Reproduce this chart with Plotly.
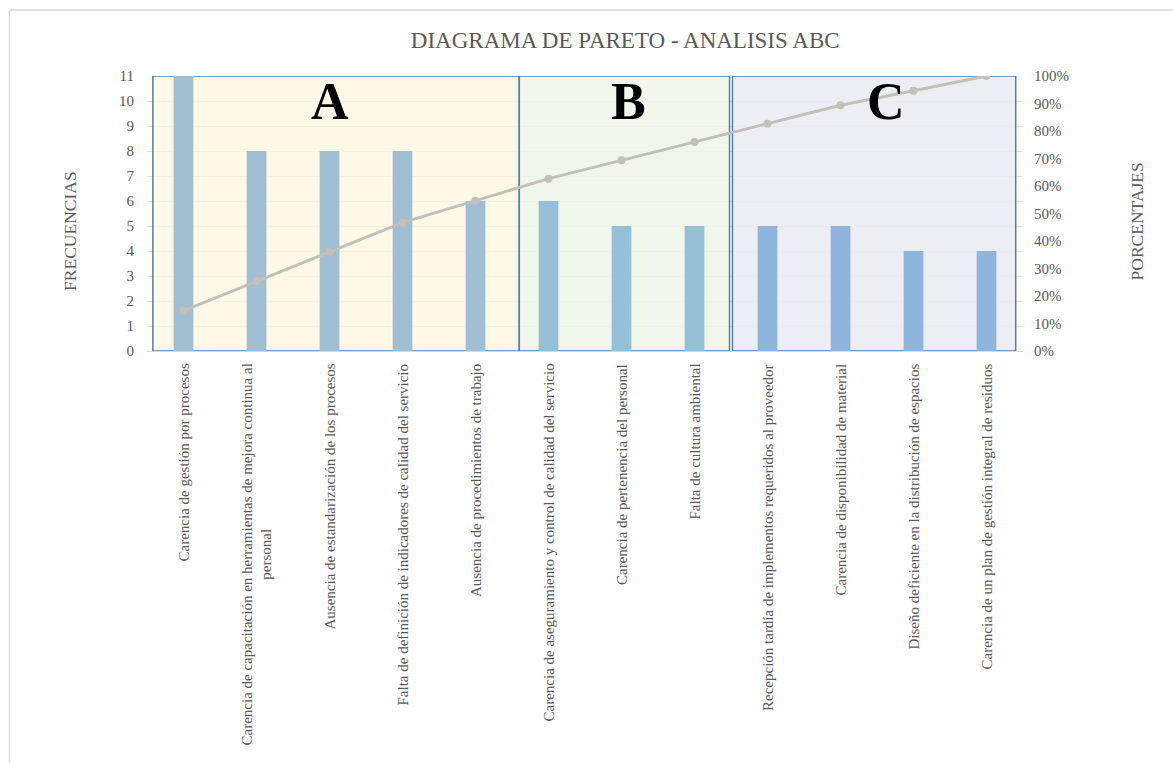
import plotly.graph_objects as go

categories = [
    "Carencia de gestión por procesos",
    "Carencia de capacitación en herramientas de mejora continua al<br>personal",
    "Ausencia de estandarización de los procesos",
    "Falta de definición de indicadores de calidad del servicio",
    "Ausencia de procedimientos de trabajo",
    "Carencia de aseguramiento y control de calidad del servicio",
    "Carencia de pertenencia del personal",
    "Falta de cultura ambiental",
    "Recepción tardía de implementos requeridos al proveedor",
    "Carencia de disponibilidad de material",
    "Diseño deficiente en la distribución de espacios",
    "Carencia de un plan de gestión integral de residuos",
]
frecuencias = [11, 8, 8, 8, 6, 6, 5, 5, 5, 5, 4, 4]
clase = ["A", "A", "A", "A", "A", "B", "B", "B", "C", "C", "C", "C"]

total = sum(frecuencias)
acum = []
s = 0
for f in frecuencias:
    s += f
    acum.append(s / total)

bar_colors = {"A": "#a0bfd3", "B": "#96bfd8", "C": "#8fb5dd"}
zones = [
    ("A", -0.42, 4.6, "rgba(254,245,222,0.75)"),
    ("B", 4.6, 7.48, "rgba(238,245,232,0.85)"),
    ("C", 7.52, 11.4, "rgba(234,236,242,0.9)"),
]
zone_label_x = {"A": 2, "B": 6.1, "C": 9.63}

x = list(range(len(categories)))
fig = go.Figure()
fig.add_trace(go.Bar(x=x, y=frecuencias, marker_color=[bar_colors[c] for c in clase],
                     marker_line_width=0, name="Frecuencia"))
fig.add_trace(go.Scatter(x=x, y=acum, yaxis="y2", mode="lines+markers",
                         line=dict(color="#c2c0b9", width=3),
                         marker=dict(color="#c2c0b9", size=8), name="% acumulado"))

for name, x0, x1, col in zones:
    fig.add_shape(type="rect", xref="x", yref="y", x0=x0, x1=x1, y0=0, y1=11,
                  fillcolor=col, line=dict(color="#4f7fb5", width=1.5), layer="between")
    fig.add_annotation(x=zone_label_x[name], y=10, xref="x", yref="y", text="<b>%s</b>" % name,
                       showarrow=False, font=dict(family="Liberation Serif", size=52, color="black"))

# category labels (rotated, centred lines)
for xi, lab in zip(x, categories):
    fig.add_annotation(x=xi, y=-0.04, xref="x", yref="paper", text=lab, textangle=-90,
                       showarrow=False, xanchor="center", yanchor="top", align="center",
                       font=dict(family="Liberation Serif", size=15, color="#595959"))

# outer chart border
fig.add_shape(type="line", xref="paper", yref="paper", x0=-0.157, x1=1.2, y0=1.24, y1=1.24,
              line=dict(color="#d9d9d9", width=1.5))
fig.add_shape(type="line", xref="paper", yref="paper", x0=-0.157, x1=-0.157, y0=1.24, y1=-1.5,
              line=dict(color="#d9d9d9", width=1.5))

fig.add_annotation(xref="paper", yref="paper", x=-0.101, y=0.435, text="FRECUENCIAS", textangle=-90,
                   showarrow=False, font=dict(family="Liberation Serif", size=17.5, color="#595959"))
fig.add_annotation(xref="paper", yref="paper", x=1.1435, y=0.47, text="PORCENTAJES", textangle=-90,
                   showarrow=False, font=dict(family="Liberation Serif", size=17.5, color="#595959"))

fig.update_layout(
    width=1173, height=763,
    margin=dict(l=147, r=150, t=76, b=412),
    paper_bgcolor="white", plot_bgcolor="white",
    showlegend=False, bargap=0.73,
    font=dict(family="Liberation Serif", color="#595959", size=13),
    title=dict(text="DIAGRAMA DE PARETO - ANALISIS ABC", x=0.533, xref="container",
               xanchor="center", y=0.947, yref="container", yanchor="middle",
               font=dict(family="Liberation Serif", size=23, color="#595959")),
    xaxis=dict(tickmode="array", tickvals=x, showticklabels=False,
               range=[-0.5, 11.5], showgrid=False, showline=True, linecolor="#d9d9d9", ticks=""),
    yaxis=dict(range=[0, 11], dtick=1, showgrid=True, gridcolor="#e2e2e2", zeroline=False,
               ticks="", ticklabelstandoff=12, tickfont=dict(size=15, color="#595959")),
    yaxis2=dict(range=[0, 1], dtick=0.1, tickformat=".0%", overlaying="y", side="right",
                showgrid=False, zeroline=False, ticks="", ticklabelstandoff=10,
                tickfont=dict(size=15, color="#595959")),
)
fig.write_html("out.html")
